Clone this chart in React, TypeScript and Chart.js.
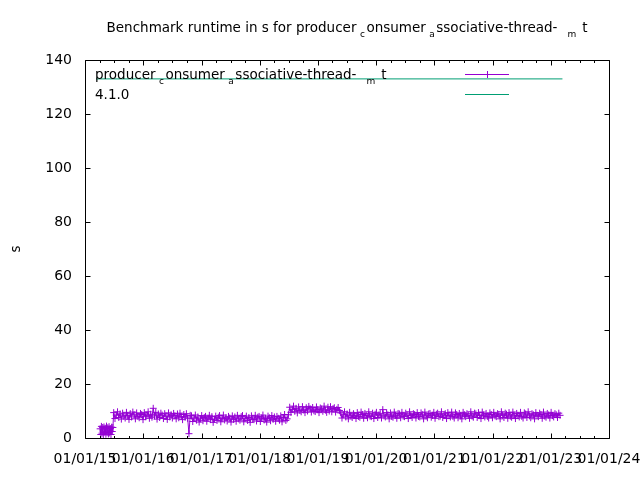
import { useEffect, useRef } from "react";
import { Chart, registerables } from "chart.js";

Chart.register(...registerables);

// ---------- data ----------
const chartTitle = "Benchmark runtime in s for producer_consumer_associative-thread-_mt";
const seriesName = "producer_consumer_associative-thread-_mt";
const refName = "4.1.0";
const yAxisTitle = "s";

// x axis: days since 2015-01-01
const xTickDays = [0, 365, 731, 1096, 1461, 1826, 2192, 2557, 2922, 3287];
const xTickLabels = ["01/01/15", "01/01/16", "01/01/17", "01/01/18", "01/01/19", "01/01/20", "01/01/21", "01/01/22", "01/01/23", "01/01/24"];
const yTicks = [0, 20, 40, 60, 80, 100, 120, 140];

const seg1Days = [95, 99, 103, 107, 111, 115, 119, 123, 127, 131, 135, 139, 143, 147, 151, 155, 159, 163, 167, 171, 175];
const seg1Values = [3.4, 1.3, 4.3, 1.8, 3.9, 1.2, 4.1, 2.2, 3.6, 1.4, 4.4, 2.0, 3.8, 1.5, 4.2, 1.9, 3.5, 1.3, 4.0, 2.4, 3.9];

const seg2Days = [
  180, 188, 196, 204, 212, 220, 228, 236, 244, 252,
  260, 268, 276, 284, 292, 300, 308, 316, 324, 332,
  340, 348, 356, 364, 372, 380, 388, 396, 404, 412,
  420, 428, 436, 444, 452, 460, 468, 476, 484, 492,
  500, 508, 516, 524, 532, 540, 548, 556, 564, 572,
  580, 588, 596, 604, 612, 620, 628, 636, 644, 652,
  660,
];
const seg2Values = [
  9.4, 7.2, 8.5, 9.7, 7.6, 8.9, 7.0, 9.2, 8.1, 7.4,
  9.5, 8.3, 6.9, 9.0, 7.8, 9.6, 8.6, 7.1, 9.3, 8.0,
  7.5, 9.1, 8.7, 6.8, 9.4, 7.9, 8.4, 9.7, 7.3, 8.8,
  7.7, 11.0, 8.2, 9.5, 7.0, 8.9, 7.6, 9.2, 8.5, 7.2,
  9.0, 8.1, 6.9, 9.3, 7.8, 8.6, 7.4, 9.1, 8.3, 7.1,
  8.9, 7.5, 9.2, 8.0, 6.8, 8.7, 7.7, 9.0, 7.3, 1.6,
  8.4,
];

const seg3Days = [
  668, 676, 684, 692, 700, 708, 716, 724, 732, 740,
  748, 756, 764, 772, 780, 788, 796, 804, 812, 820,
  828, 836, 844, 852, 860, 868, 876, 884, 892, 900,
  908, 916, 924, 932, 940, 948, 956, 964, 972, 980,
  988, 996, 1004, 1012, 1020, 1028, 1036, 1044, 1052, 1060,
  1068, 1076, 1084, 1092, 1100, 1108, 1116, 1124, 1132, 1140,
  1148, 1156, 1164, 1172, 1180, 1188, 1196, 1204, 1212, 1220,
  1228, 1236, 1244, 1252, 1260, 1268, 1276,
];
const seg3Values = [
  8.2, 6.1, 7.4, 8.5, 6.6, 7.8, 5.9, 7.1, 8.3, 6.4,
  7.6, 8.0, 6.2, 7.3, 8.4, 6.8, 7.9, 5.8, 7.0, 8.1,
  6.5, 7.7, 8.3, 6.0, 7.2, 8.5, 6.7, 7.5, 6.3, 8.0,
  7.4, 5.9, 8.2, 6.9, 7.8, 6.2, 8.4, 7.1, 6.6, 7.9,
  8.3, 6.0, 7.3, 8.1, 6.5, 7.6, 5.8, 8.2, 7.0, 6.8,
  8.4, 6.3, 7.7, 8.0, 6.1, 7.4, 8.5, 6.7, 7.2, 5.9,
  8.1, 7.5, 6.4, 8.3, 6.9, 7.8, 6.2, 8.0, 7.3, 6.6,
  8.2, 6.0, 7.6, 8.7, 6.5, 7.1, 8.6,
];

const seg4Days = [
  1284, 1292, 1300, 1308, 1316, 1324, 1332, 1340, 1348, 1356,
  1364, 1372, 1380, 1388, 1396, 1404, 1412, 1420, 1428, 1436,
  1444, 1452, 1460, 1468, 1476, 1484, 1492, 1500, 1508, 1516,
  1524, 1532, 1540, 1548, 1556, 1564, 1572, 1580, 1588, 1596,
];
const seg4Values = [
  11.4, 9.5, 10.6, 11.8, 9.9, 11.0, 9.3, 11.5, 10.2, 9.7,
  11.6, 10.4, 9.4, 11.2, 10.0, 11.7, 10.8, 9.6, 11.3, 10.1,
  9.8, 11.5, 10.5, 9.4, 11.1, 10.7, 9.9, 11.8, 10.3, 9.5,
  11.4, 10.0, 11.6, 9.7, 10.9, 11.2, 9.6, 10.6, 11.3, 10.2,
];

const seg5Days = [
  1604, 1612, 1620, 1628, 1636, 1644, 1652, 1660, 1668, 1676,
  1684, 1692, 1700, 1708, 1716, 1724, 1732, 1740, 1748, 1756,
  1764, 1772, 1780, 1788, 1796, 1804, 1812, 1820, 1828, 1836,
  1844, 1852, 1860, 1868, 1876, 1884, 1892, 1900, 1908, 1916,
  1924, 1932, 1940, 1948, 1956, 1964, 1972, 1980, 1988, 1996,
  2004, 2012, 2020, 2028, 2036, 2044, 2052, 2060, 2068, 2076,
  2084, 2092, 2100, 2108, 2116, 2124, 2132, 2140, 2148, 2156,
  2164, 2172, 2180, 2188, 2196, 2204, 2212, 2220, 2228, 2236,
  2244, 2252, 2260, 2268, 2276, 2284, 2292, 2300, 2308, 2316,
  2324, 2332, 2340, 2348, 2356, 2364, 2372, 2380, 2388, 2396,
  2404, 2412, 2420, 2428, 2436, 2444, 2452, 2460, 2468, 2476,
  2484, 2492, 2500, 2508, 2516, 2524, 2532, 2540, 2548, 2556,
  2564, 2572, 2580, 2588, 2596, 2604, 2612, 2620, 2628, 2636,
  2644, 2652, 2660, 2668, 2676, 2684, 2692, 2700, 2708, 2716,
  2724, 2732, 2740, 2748, 2756, 2764, 2772, 2780, 2788, 2796,
  2804, 2812, 2820, 2828, 2836, 2844, 2852, 2860, 2868, 2876,
  2884, 2892, 2900, 2908, 2916, 2924, 2932, 2940, 2948, 2956,
  2964, 2972, 2980,
];
const seg5Values = [
  9.3, 7.4, 8.6, 9.7, 7.8, 8.9, 7.1, 9.5, 8.2, 7.6,
  9.0, 8.4, 7.2, 9.4, 8.0, 7.7, 9.6, 8.7, 7.3, 9.1,
  8.3, 7.5, 9.7, 8.1, 7.9, 9.2, 7.2, 8.8, 9.5, 7.6,
  8.5, 9.0, 7.4, 10.5, 8.2, 7.8, 9.4, 8.6, 7.1, 9.3,
  8.0, 7.7, 9.6, 8.4, 7.3, 9.1, 8.9, 7.5, 9.5, 8.1,
  7.9, 9.2, 8.5, 7.2, 9.7, 8.3, 7.6, 9.0, 8.7, 7.4,
  9.4, 8.0, 7.8, 9.3, 8.6, 7.1, 9.6, 8.2, 7.5, 8.9,
  9.1, 7.7, 8.4, 9.5, 7.3, 8.8, 9.2, 7.9, 8.1, 9.7,
  7.6, 8.5, 9.0, 7.2, 9.4, 8.3, 7.8, 9.6, 8.0, 7.4,
  9.3, 8.7, 7.5, 9.1, 8.2, 7.1, 9.5, 8.6, 7.9, 9.0,
  8.4, 7.3, 9.7, 8.1, 7.7, 9.2, 8.9, 7.6, 9.4, 8.3,
  7.2, 9.6, 8.5, 7.8, 9.1, 8.0, 7.4, 9.3, 8.7, 7.5,
  9.5, 8.2, 7.9, 9.0, 8.6, 7.1, 9.7, 8.4, 7.6, 9.2,
  8.8, 7.3, 9.4, 8.1, 7.7, 9.6, 8.5, 7.2, 9.1, 8.3,
  7.8, 9.5, 8.0, 7.4, 9.3, 8.9, 7.6, 9.7, 8.2, 7.5,
  9.0, 8.6, 7.1, 9.4, 8.4, 7.9, 9.2, 8.7, 7.3, 9.6,
  8.1, 7.7, 9.1, 8.5, 7.4, 9.5, 8.3, 7.8, 9.0, 8.6,
  7.6, 9.2, 8.4,
];

const refDays = [70, 2995];
const refValues = [133, 133];

const runDays = [...seg1Days, ...seg2Days, ...seg3Days, ...seg4Days, ...seg5Days];
const runValues = [...seg1Values, ...seg2Values, ...seg3Values, ...seg4Values, ...seg5Values];

// ---------- style ----------
const PURPLE = "#9400d3";
const GREEN = "#009e73";
const FAMILY = '"DejaVu Sans", sans-serif';
const MAIN_FONT = `13.5px ${FAMILY}`;
const SUB_FONT = `9px ${FAMILY}`;

type Part = { t: string; sub: boolean };
function parseEnhanced(s: string): Part[] {
  const parts: Part[] = [];
  let buf = "";
  for (let i = 0; i < s.length; i++) {
    if (s[i] === "_" && i + 1 < s.length) {
      if (buf) parts.push({ t: buf, sub: false });
      buf = "";
      parts.push({ t: s[i + 1], sub: true });
      i++;
    } else buf += s[i];
  }
  if (buf) parts.push({ t: buf, sub: false });
  return parts;
}

function subGaps(ch: string): [number, number] {
  return ch === "m" ? [10, 6] : [3.5, 1.5];
}

function layoutEnhanced(ctx: CanvasRenderingContext2D, s: string) {
  const parts = parseEnhanced(s);
  let w = 0;
  const items: { t: string; sub: boolean; x: number }[] = [];
  for (const p of parts) {
    ctx.font = p.sub ? SUB_FONT : MAIN_FONT;
    if (p.sub) {
      const [pre, post] = subGaps(p.t);
      w += pre;
      items.push({ t: p.t, sub: true, x: w });
      w += ctx.measureText(p.t).width + post;
    } else {
      items.push({ t: p.t, sub: false, x: w });
      w += ctx.measureText(p.t).width;
    }
  }
  return { items, width: w };
}

function drawEnhanced(ctx: CanvasRenderingContext2D, s: string, x: number, baseline: number, align: "left" | "center") {
  const { items, width } = layoutEnhanced(ctx, s);
  const x0 = align === "center" ? x - width / 2 : x;
  ctx.fillStyle = "#000";
  ctx.textAlign = "left";
  ctx.textBaseline = "alphabetic";
  for (const it of items) {
    ctx.font = it.sub ? SUB_FONT : MAIN_FONT;
    ctx.fillText(it.t, x0 + it.x, it.sub ? baseline + 5 : baseline);
  }
}

const gnuplotFrame = {
  id: "gnuplotFrame",
  afterDraw(chart: any) {
    const { ctx, chartArea, scales } = chart;
    const xs = scales.x;
    const ys = scales.y;
    const L = Math.round(chartArea.left) + 0.5;
    const R = Math.round(chartArea.right) + 0.5;
    const T = Math.round(chartArea.top) + 0.5;
    const B = Math.round(chartArea.bottom) + 0.5;
    ctx.save();
    ctx.strokeStyle = "#000";
    ctx.lineWidth = 1;
    ctx.beginPath();
    ctx.moveTo(L, T); ctx.lineTo(R, T); ctx.lineTo(R, B); ctx.lineTo(L, B); ctx.closePath();
    // y ticks
    for (const v of yTicks) {
      const py = Math.round(ys.getPixelForValue(v)) + 0.5;
      ctx.moveTo(L, py); ctx.lineTo(L + 5, py);
      ctx.moveTo(R, py); ctx.lineTo(R - 5, py);
    }
    // x ticks (major + quarterly minor)
    for (let i = 0; i < xTickDays.length; i++) {
      const px = Math.round(xs.getPixelForValue(xTickDays[i])) + 0.5;
      ctx.moveTo(px, B); ctx.lineTo(px, B - 5);
      ctx.moveTo(px, T); ctx.lineTo(px, T + 5);
      if (i < xTickDays.length - 1) {
        for (let k = 1; k < 4; k++) {
          const d = xTickDays[i] + ((xTickDays[i + 1] - xTickDays[i]) * k) / 4;
          const mx = Math.round(xs.getPixelForValue(d)) + 0.5;
          ctx.moveTo(mx, B); ctx.lineTo(mx, B - 2.5);
          ctx.moveTo(mx, T); ctx.lineTo(mx, T + 2.5);
        }
      }
    }
    ctx.stroke();

    // title
    drawEnhanced(ctx, chartTitle, (chartArea.left + chartArea.right) / 2, 32, "center");

    // legend
    drawEnhanced(ctx, seriesName, 95, 79, "left");
    drawEnhanced(ctx, refName, 95, 99, "left");
    ctx.lineWidth = 1;
    ctx.strokeStyle = PURPLE;
    ctx.beginPath();
    ctx.moveTo(465, 74.5); ctx.lineTo(509, 74.5);
    ctx.moveTo(487.5, 71); ctx.lineTo(487.5, 78);
    ctx.stroke();
    ctx.strokeStyle = GREEN;
    ctx.beginPath();
    ctx.moveTo(465, 94.5); ctx.lineTo(509, 94.5);
    ctx.stroke();

    // y axis title
    ctx.translate(16, (chartArea.top + chartArea.bottom) / 2);
    ctx.rotate(-Math.PI / 2);
    ctx.font = MAIN_FONT;
    ctx.fillStyle = "#000";
    ctx.textAlign = "center";
    ctx.textBaseline = "middle";
    ctx.fillText(yAxisTitle, 0, 0);
    ctx.restore();
  },
};

export default function App() {
  const ref = useRef<HTMLCanvasElement>(null);
  useEffect(() => {
    const canvas = ref.current;
    if (!canvas) return;
    const chart = new Chart(canvas, {
      type: "line",
      data: {
        datasets: [
          {
            label: seriesName,
            data: runDays.map((d, i) => ({ x: d, y: runValues[i] })),
            borderColor: PURPLE,
            backgroundColor: PURPLE,
            borderWidth: 1,
            pointStyle: "cross",
            pointRadius: 3.5,
            pointBorderWidth: 1,
            pointBorderColor: PURPLE,
            tension: 0,
            fill: false,
            order: 2,
          },
          {
            label: refName,
            data: refDays.map((d, i) => ({ x: d, y: refValues[i] })),
            borderColor: GREEN,
            backgroundColor: GREEN,
            borderWidth: 1,
            pointRadius: 0,
            tension: 0,
            fill: false,
            order: 1,
          },
        ],
      },
      options: {
        responsive: false,
        animation: false,
        devicePixelRatio: 1,
        events: [],
        layout: { padding: { top: 60, right: 31, bottom: 0, left: 0 } },
        plugins: {
          legend: { display: false },
          title: { display: false },
          tooltip: { enabled: false },
        },
        scales: {
          x: {
            type: "linear",
            min: 0,
            max: 3287,
            grid: { display: false, drawTicks: false },
            border: { display: false },
            afterBuildTicks: (axis: any) => {
              axis.ticks = xTickDays.map((v) => ({ value: v }));
            },
            afterFit: (axis: any) => {
              axis.height = 42;
              axis.paddingLeft = 0;
              axis.paddingRight = 0;
            },
            ticks: {
              autoSkip: false,
              maxRotation: 0,
              minRotation: 0,
              padding: 13,
              color: "#000",
              font: { family: FAMILY, size: 14 },
              callback: (_v: any, i: number) => xTickLabels[i],
            },
          },
          y: {
            type: "linear",
            min: 0,
            max: 140,
            grid: { display: false, drawTicks: false },
            border: { display: false },
            afterBuildTicks: (axis: any) => {
              axis.ticks = yTicks.map((v) => ({ value: v }));
            },
            afterFit: (axis: any) => {
              axis.width = 85;
              axis.paddingTop = 0;
              axis.paddingBottom = 0;
            },
            ticks: {
              padding: 13,
              color: "#000",
              font: { family: FAMILY, size: 14 },
              callback: (v: any) => String(v),
            },
          },
        },
      },
      plugins: [gnuplotFrame],
    } as any);
    return () => chart.destroy();
  }, []);
  return (
    <div style={{ position: "absolute", left: 0, top: 0, width: 640, height: 480 }}>
      <canvas ref={ref} width={640} height={480} />
    </div>
  );
}
